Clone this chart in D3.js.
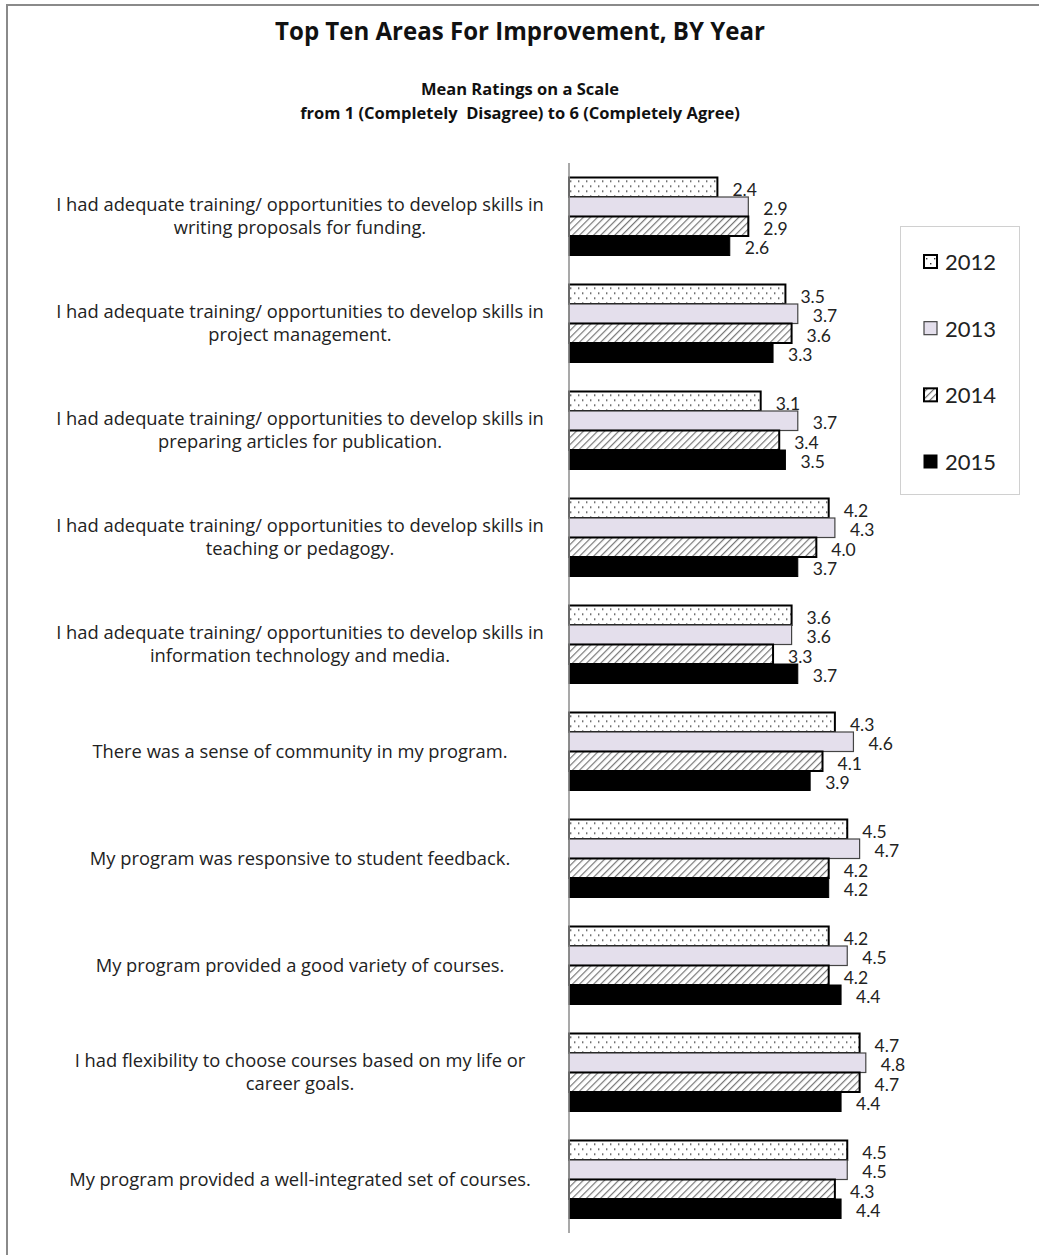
<!DOCTYPE html>
<html>
<head>
<meta charset="utf-8">
<script src="https://cdn.jsdelivr.net/npm/d3@7"></script>
<style>
  html, body { margin: 0; padding: 0; background: #fff; }
  svg { display: block; font-family: "Open Sans", "Lato", sans-serif; }
</style>
</head>
<body>
<svg id="chart" width="1039" height="1255"></svg>
<script>
// Survey items (two-line labels where the statement wraps)
const categories = [
  ["I had adequate training/ opportunities to develop skills in", "writing proposals for funding."],
  ["I had adequate training/ opportunities to develop skills in", "project management."],
  ["I had adequate training/ opportunities to develop skills in", "preparing articles for publication."],
  ["I had adequate training/ opportunities to develop skills in", "teaching or pedagogy."],
  ["I had adequate training/ opportunities to develop skills in", "information technology and media."],
  ["There was a sense of community in my program."],
  ["My program was responsive to student feedback."],
  ["My program provided a good variety of courses."],
  ["I had flexibility to choose courses based on my life or", "career goals."],
  ["My program provided a well-integrated set of courses."]
];

const years = ["2012", "2013", "2014", "2015"];

// Mean ratings per item, one array per survey year
const values2012 = [2.4, 3.5, 3.1, 4.2, 3.6, 4.3, 4.5, 4.2, 4.7, 4.5];
const values2013 = [2.9, 3.7, 3.7, 4.3, 3.6, 4.6, 4.7, 4.5, 4.8, 4.5];
const values2014 = [2.9, 3.6, 3.4, 4.0, 3.3, 4.1, 4.2, 4.2, 4.7, 4.3];
const values2015 = [2.6, 3.3, 3.5, 3.7, 3.7, 3.9, 4.2, 4.4, 4.4, 4.4];

const seriesValues = [values2012, values2013, values2014, values2015];

const titleText = "Top Ten Areas For Improvement, BY Year";
const subtitleLines = ["Mean Ratings on a Scale", "from 1 (Completely  Disagree) to 6 (Completely Agree)"];

const svg = d3.select("#chart");

// Scale a text element's font so that it spans the given width
function fitWidth(node, target) {
  const fs = parseFloat(node.getAttribute("font-size"));
  const w = node.getComputedTextLength();
  if (w > 0) node.setAttribute("font-size", (fs * target / w).toFixed(2));
}

// Patterns for the year fills
const defs = svg.append("defs");
const dots = defs.append("pattern")
  .attr("id", "dots").attr("patternUnits", "userSpaceOnUse")
  .attr("width", 8).attr("height", 10);
dots.append("rect").attr("width", 8).attr("height", 10).attr("fill", "#fff");
dots.append("rect").attr("x", 2).attr("y", 3).attr("width", 1.4).attr("height", 1.4).attr("fill", "#333");
dots.append("rect").attr("x", 6).attr("y", 8).attr("width", 1.4).attr("height", 1.4).attr("fill", "#333");

const hatch = defs.append("pattern")
  .attr("id", "hatch").attr("patternUnits", "userSpaceOnUse")
  .attr("width", 5).attr("height", 5)
  .attr("patternTransform", "rotate(45)");
hatch.append("rect").attr("width", 5).attr("height", 5).attr("fill", "#fff");
hatch.append("line").attr("x1", 0).attr("y1", 0).attr("x2", 0).attr("y2", 5)
  .attr("stroke", "#777").attr("stroke-width", 2.4);

const styles = [
  { fill: "url(#dots)", stroke: "#000", sw: 2 },
  { fill: "#e4dfec", stroke: "#444", sw: 1.2 },
  { fill: "url(#hatch)", stroke: "#000", sw: 2 },
  { fill: "#000", stroke: "#000", sw: 1 }
];

// Chart frame
svg.append("rect")
  .attr("x", 7).attr("y", 5).attr("width", 1100).attr("height", 1300)
  .attr("fill", "none").attr("stroke", "#8a8a8a").attr("stroke-width", 2);

// Titles
const title = svg.append("text")
  .attr("x", 520).attr("y", 40).attr("text-anchor", "middle")
  .attr("font-weight", "bold").attr("font-size", 20).attr("fill", "#111")
  .text(titleText);
fitWidth(title.node(), 490);

svg.selectAll("text.sub").data(subtitleLines).join("text")
  .attr("class", "sub")
  .attr("x", 520).attr("y", (d, i) => 95 + i * 24).attr("text-anchor", "middle")
  .attr("font-weight", "bold").attr("font-size", 16.5).attr("fill", "#111")
  .attr("xml:space", "preserve")
  .style("white-space", "pre")
  .text(d => d);

// Scales
const x = d3.scaleLinear().domain([0, 6]).range([569, 940]);
const y = d3.scaleBand().domain(d3.range(categories.length))
  .range([163, 1233]).paddingInner(0.271).paddingOuter(0.1355);
const yInner = d3.scaleBand().domain(years).range([0, y.bandwidth()]);

// Category labels, one text per line
const catG = svg.append("g");
const lineH = 23;
categories.forEach((lines, i) => {
  const cy = y(i) + y.bandwidth() / 2;
  lines.forEach((ln, j) => {
    catG.append("text")
      .attr("text-anchor", "middle").attr("font-size", 16).attr("fill", "#222")
      .attr("x", 300)
      .attr("y", cy + (j - (lines.length - 1) / 2) * lineH)
      .attr("dy", "0.35em")
      .text(ln);
  });
});
// Size category text so the longest line spans the label column
{
  const probe = catG.select("text").node();
  const w = probe.getComputedTextLength();
  catG.selectAll("text").attr("font-size", (16 * 488 / w).toFixed(2));
}

// Bars and value labels
const groups = svg.append("g").selectAll("g").data(categories).join("g")
  .attr("transform", (d, i) => `translate(0,${y(i)})`);

years.forEach((yr, s) => {
  const st = styles[s];
  groups.append("rect")
    .attr("x", x(0))
    .attr("y", yInner(yr))
    .attr("width", (d, i) => x(seriesValues[s][i]) - x(0))
    .attr("height", yInner.bandwidth())
    .attr("fill", st.fill)
    .attr("stroke", st.stroke)
    .attr("stroke-width", st.sw);
  groups.append("text")
    .attr("x", (d, i) => x(seriesValues[s][i]) + 15)
    .attr("y", yInner(yr) + yInner.bandwidth() / 2 + 2)
    .attr("dy", "0.36em")
    .attr("font-family", "Lato, sans-serif")
    .attr("font-size", 17.5).attr("fill", "#222")
    .text((d, i) => seriesValues[s][i].toFixed(1));
});

// Category axis line
svg.append("g")
  .attr("transform", `translate(${x(0)},0)`)
  .call(d3.axisLeft(y).tickSize(0).tickFormat(""))
  .call(g => g.select(".domain").attr("stroke", "#8c8c8c").attr("stroke-width", 1.5).attr("d", "M0,163V1233"));

// Legend
const legend = svg.append("g");
legend.append("rect")
  .attr("x", 900.5).attr("y", 226.5).attr("width", 119).attr("height", 268)
  .attr("fill", "#fff").attr("stroke", "#d0d0d0").attr("stroke-width", 1);
const ly = d3.scalePoint().domain(years).range([262, 462]);
years.forEach((yr, s) => {
  const st = styles[s];
  legend.append("rect")
    .attr("x", 924).attr("y", ly(yr) - 7).attr("width", 13).attr("height", 13)
    .attr("fill", st.fill).attr("stroke", st.stroke).attr("stroke-width", st.sw);
  legend.append("text")
    .attr("x", 945).attr("y", ly(yr)).attr("dy", "0.36em")
    .attr("font-family", "Lato, sans-serif")
    .attr("font-size", 22).attr("fill", "#222")
    .text(yr);
});
</script>
</body>
</html>
